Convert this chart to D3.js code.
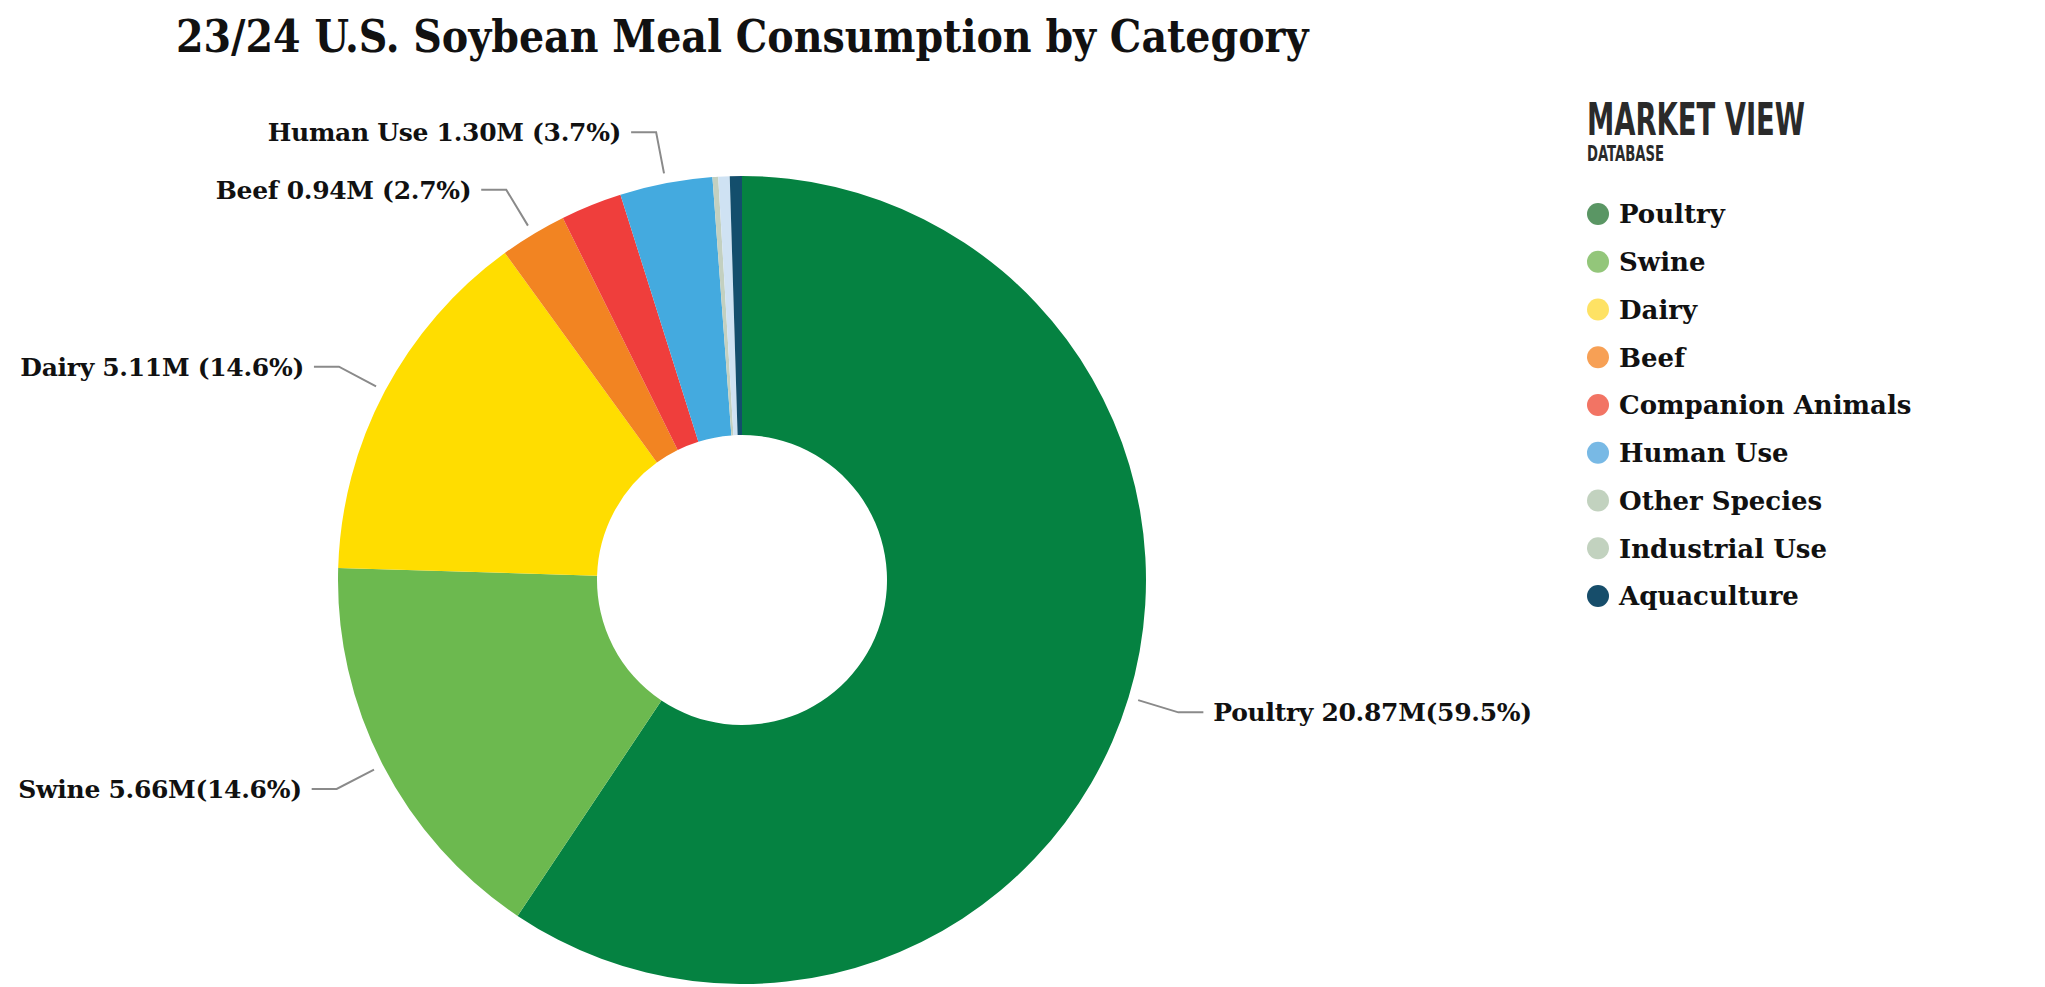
<!DOCTYPE html>
<html>
<head>
<meta charset="utf-8">
<script src="https://cdn.jsdelivr.net/npm/d3@7"></script>
<style>
  html, body { margin: 0; padding: 0; background: #fff; }
  svg { display: block; }
</style>
</head>
<body>
<svg id="chart" width="2045" height="987"></svg>
<script>
// data (million short tons)
const categories = ["Poultry", "Swine", "Dairy", "Beef", "Companion Animals", "Human Use", "Other Species", "Industrial Use", "Aquaculture"];
const values = [20.87, 5.66, 5.11, 0.94, 0.86, 1.30, 0.08, 0.16, 0.17];
const sliceColors = ["#058241", "#6cb94f", "#ffdd00", "#f28422", "#ef3e3c", "#44aadf", "#c3d0c0", "#cfe2f3", "#134e6c"];
const legendColors = ["#5a9664", "#93c67a", "#fee264", "#f7a055", "#f27464", "#78b9e5", "#c2d2bf", "#c2d2bf", "#164d6a"];
// data labels as printed on the chart (only the bigger slices have one)
const labelTexts = ["Poultry 20.87M(59.5%)", "Swine 5.66M(14.6%)", "Dairy 5.11M (14.6%)", "Beef 0.94M (2.7%)", null, "Human Use 1.30M (3.7%)", null, null, null];

const titleText = "23/24 U.S. Soybean Meal Consumption by Category";

const svg = d3.select("#chart");

const cx = 742, cy = 580;
const outerR = 404, innerR = 145;

svg.append("text")
    .attr("x", 176)
    .attr("y", 52)
    .attr("font-family", "DejaVu Serif")
    .attr("font-stretch", "condensed")
    .attr("font-weight", "bold")
    .attr("font-size", 44)
    .attr("fill", "#111")
    .text(titleText);

const data = categories.map((c, i) => ({ name: c, value: values[i], label: labelTexts[i], i }));

const pie = d3.pie()
    .value(d => d.value)
    .sort(null);

const arc = d3.arc()
    .innerRadius(innerR)
    .outerRadius(outerR);

const arcs = pie(data);

const g = svg.append("g").attr("transform", `translate(${cx},${cy})`);

g.selectAll("path.slice")
    .data(arcs)
    .join("path")
    .attr("class", "slice")
    .attr("d", arc)
    .attr("fill", d => sliceColors[d.data.i]);

// connectors + labels
const startArc = d3.arc().innerRadius(outerR + 10).outerRadius(outerR + 10);
const kneeArc = d3.arc().innerRadius(outerR + 52).outerRadius(outerR + 52);
const labelled = arcs.filter(d => d.data.label);

labelled.forEach(d => {
    const p0 = startArc.centroid(d);
    const p1 = kneeArc.centroid(d);
    const mid = (d.startAngle + d.endAngle) / 2;
    const side = mid < Math.PI ? 1 : -1;
    const p2 = [p1[0] + side * 25, p1[1]];

    g.append("path")
        .attr("d", d3.line()([p0, p1, p2]))
        .attr("fill", "none")
        .attr("stroke", "#8a8a8a")
        .attr("stroke-width", 2);

    g.append("text")
        .attr("x", p2[0] + side * 10)
        .attr("y", p2[1])
        .attr("dy", "0.36em")
        .attr("text-anchor", side > 0 ? "start" : "end")
        .attr("font-family", "DejaVu Serif")
        .attr("font-weight", "bold")
        .attr("font-size", 25)
        .attr("letter-spacing", -0.3)
        .attr("fill", "#111")
        .text(d.data.label);
});

// brand + legend
const legend = svg.append("g").attr("transform", "translate(1587,0)");

legend.append("text")
    .attr("x", 0)
    .attr("y", 135)
    .attr("font-family", "DejaVu Sans")
    .attr("font-stretch", "condensed")
    .attr("font-weight", "bold")
    .attr("font-size", 45)
    .attr("textLength", 218)
    .attr("lengthAdjust", "spacingAndGlyphs")
    .attr("fill", "#2a2a2a")
    .text("MARKET VIEW");

legend.append("text")
    .attr("x", 0)
    .attr("y", 161)
    .attr("font-family", "DejaVu Sans")
    .attr("font-stretch", "condensed")
    .attr("font-weight", "bold")
    .attr("font-size", 21)
    .attr("textLength", 77)
    .attr("lengthAdjust", "spacingAndGlyphs")
    .attr("fill", "#2a2a2a")
    .text("DATABASE");

const rowY = d3.scalePoint()
    .domain(categories)
    .range([214, 596]);

const items = legend.selectAll("g.item")
    .data(data)
    .join("g")
    .attr("class", "item")
    .attr("transform", d => `translate(0,${rowY(d.name)})`);

items.append("circle")
    .attr("cx", 11)
    .attr("cy", 0)
    .attr("r", 11)
    .attr("fill", d => legendColors[d.i]);

items.append("text")
    .attr("x", 32)
    .attr("y", 0)
    .attr("dy", "0.36em")
    .attr("font-family", "DejaVu Serif")
    .attr("font-weight", "bold")
    .attr("font-size", 26)
    .attr("fill", "#111")
    .text(d => d.name);
</script>
</body>
</html>
